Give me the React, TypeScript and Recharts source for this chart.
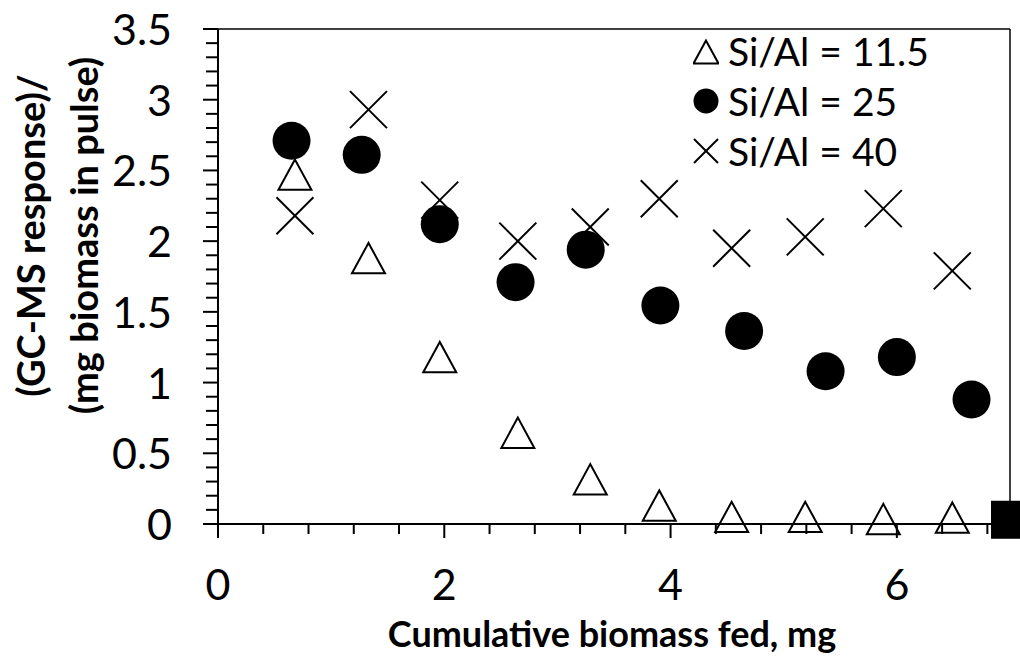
import { ScatterChart, Scatter, XAxis, YAxis, ReferenceLine, Legend } from "recharts";

const FONT = "Lato, 'Liberation Sans', sans-serif";

// Si/Al = 11.5 (open triangles)
const siAl115X = [0.68, 1.33, 1.96, 2.65, 3.29, 3.9, 4.54, 5.19, 5.88, 6.49];
const siAl115Y = [2.47, 1.88, 1.18, 0.645, 0.316, 0.13, 0.05, 0.05, 0.035, 0.045];
// Si/Al = 25 (filled circles)
const siAl25X = [0.65, 1.27, 1.96, 2.63, 3.25, 3.91, 4.65, 5.37, 6.0, 6.66];
const siAl25Y = [2.71, 2.61, 2.12, 1.71, 1.94, 1.545, 1.365, 1.08, 1.18, 0.88];
// Si/Al = 40 (crosses)
const siAl40X = [0.68, 1.33, 1.96, 2.65, 3.29, 3.9, 4.54, 5.19, 5.88, 6.49];
const siAl40Y = [2.18, 2.93, 2.29, 2.0, 2.1, 2.3, 1.95, 2.03, 2.23, 1.79];
// lone square at the end of the x axis
const endX = [7];
const endY = [0.03];

const seriesNames = ["Si/Al = 11.5", "Si/Al = 25", "Si/Al = 40"];

const xTicks = [0, 0.4, 0.8, 1.2, 1.6, 2, 2.4, 2.8, 3.2, 3.6, 4, 4.4, 4.8, 5.2, 5.6, 6, 6.4, 6.8];
const xLabelTicks = [0, 2, 4, 6];
const yTicks = [
  0, 0.1, 0.2, 0.3, 0.4, 0.5, 0.6, 0.7, 0.8, 0.9, 1, 1.1, 1.2, 1.3, 1.4, 1.5, 1.6, 1.7, 1.8,
  1.9, 2, 2.1, 2.2, 2.3, 2.4, 2.5, 2.6, 2.7, 2.8, 2.9, 3, 3.1, 3.2, 3.3, 3.4, 3.5,
];
const yLabelTicks = [0, 0.5, 1, 1.5, 2, 2.5, 3, 3.5];

const toPoints = (xs: number[], ys: number[]) => xs.map((x, i) => ({ x, y: ys[i] }));

const Triangle = ({ cx, cy, s = 16.5 }: any) => (
  <polygon
    points={`${cx},${cy - s * 0.92} ${cx - s},${cy + s * 0.92} ${cx + s},${cy + s * 0.92}`}
    fill="none"
    stroke="#000"
    strokeWidth={2}
  />
);
const Dot = ({ cx, cy, r = 19 }: any) => <circle cx={cx} cy={cy} r={r} fill="#000" />;
const Cross = ({ cx, cy, s = 18.5 }: any) => (
  <g stroke="#000" strokeWidth={2}>
    <line x1={cx - s} y1={cy - s} x2={cx + s} y2={cy + s} />
    <line x1={cx - s} y1={cy + s} x2={cx + s} y2={cy - s} />
  </g>
);
const Square = ({ cx, cy }: any) => <rect x={cx - 19} y={cy - 19} width={38} height={38} fill="#000" />;

function XTick({ x, y, payload }: any) {
  const major = xLabelTicks.includes(payload.value);
  return (
    <g>
      <line x1={x} x2={x} y1={y} y2={y + (major ? 14 : 10)} stroke="#000" strokeWidth={2} />
      {major && (
        <text x={x} y={y + 76} textAnchor="middle" fontSize={43} fontFamily={FONT} fill="#000">
          {payload.value}
        </text>
      )}
    </g>
  );
}

function YTick({ x, y, payload }: any) {
  const major = yLabelTicks.includes(payload.value);
  return (
    <g>
      <line x1={x - (major ? 15 : 12)} x2={x} y1={y} y2={y} stroke="#000" strokeWidth={2} />
      {major && (
        <text x={x - 46} y={y + 16} textAnchor="end" fontSize={43} fontFamily={FONT} fill="#000">
          {payload.value}
        </text>
      )}
    </g>
  );
}

function YTitle({ viewBox }: any) {
  const cy = viewBox.y + viewBox.height / 2 - 41;
  const common = { textAnchor: "middle" as const, fontSize: 38, fontWeight: 700, fontFamily: FONT, fill: "#000" };
  return (
    <g>
      <text {...common} x={45} y={cy} transform={`rotate(-90 45 ${cy})`}>
        (GC-MS response)/
      </text>
      <text {...common} x={98} y={cy} transform={`rotate(-90 98 ${cy})`}>
        (mg biomass in pulse)
      </text>
    </g>
  );
}

function XTitle({ viewBox }: any) {
  return (
    <text
      x={viewBox.x + viewBox.width / 2 - 2}
      y={viewBox.y + 123}
      textAnchor="middle"
      fontSize={36}
      fontWeight={700}
      fontFamily={FONT}
      fill="#000"
    >
      Cumulative biomass fed, mg
    </text>
  );
}

function LegendIcon({ name }: { name: string }) {
  const i = seriesNames.indexOf(name);
  return (
    <svg width={26} height={50} style={{ display: "block" }}>
      {i === 0 && <Triangle cx={13} cy={26} s={12.5} />}
      {i === 1 && <Dot cx={13} cy={25} r={12.5} />}
      {i === 2 && <Cross cx={13} cy={25} s={12} />}
    </svg>
  );
}

function LegendBox({ payload }: any) {
  const entries = (payload || []).filter((e: any) => seriesNames.includes(e.value));
  return (
    <div style={{ fontFamily: FONT, fontSize: 39, color: "#000" }}>
      {entries.map((e: any) => (
        <div key={e.value} style={{ display: "flex", alignItems: "center", height: 50 }}>
          <LegendIcon name={e.value} />
          <span style={{ marginLeft: 9, lineHeight: "50px" }}>{e.value}</span>
        </div>
      ))}
    </div>
  );
}

export default function App() {
  return (
    <div style={{ position: "absolute", left: 0, top: 0, background: "#fff" }}>
      <ScatterChart width={1020} height={657} margin={{ top: 29, right: 10, bottom: 0, left: 0 }}>
        <XAxis
          type="number"
          dataKey="x"
          domain={[0, 7]}
          ticks={xTicks}
          interval={0}
          height={133}
          tickSize={0}
          tickMargin={0}
          tickLine={false}
          axisLine={{ stroke: "#000", strokeWidth: 2 }}
          tick={<XTick />}
          label={<XTitle />}
        />
        <YAxis
          type="number"
          dataKey="y"
          domain={[0, 3.5]}
          ticks={yTicks}
          interval={0}
          width={218}
          tickSize={0}
          tickMargin={0}
          tickLine={false}
          axisLine={{ stroke: "#000", strokeWidth: 2 }}
          tick={<YTick />}
          label={<YTitle />}
        />
        <ReferenceLine y={3.5} stroke="#000" strokeWidth={1.5} />
        <ReferenceLine x={7} stroke="#000" strokeWidth={1.5} />
        <Legend
          layout="vertical"
          align="center"
          verticalAlign="middle"
          content={<LegendBox />}
          wrapperStyle={{ left: 693, top: 26, width: 320 }}
        />
        <Scatter
          name={seriesNames[0]}
          data={toPoints(siAl115X, siAl115Y)}
          shape={(p: any) => <Triangle cx={p.cx} cy={p.cy} />}
          isAnimationActive={false}
        />
        <Scatter
          name={seriesNames[1]}
          data={toPoints(siAl25X, siAl25Y)}
          shape={(p: any) => <Dot cx={p.cx} cy={p.cy} />}
          isAnimationActive={false}
        />
        <Scatter
          name={seriesNames[2]}
          data={toPoints(siAl40X, siAl40Y)}
          shape={(p: any) => <Cross cx={p.cx} cy={p.cy} />}
          isAnimationActive={false}
        />
        <Scatter
          name="end"
          legendType="none"
          data={toPoints(endX, endY)}
          shape={(p: any) => <Square cx={p.cx} cy={p.cy} />}
          isAnimationActive={false}
        />
      </ScatterChart>
    </div>
  );
}
